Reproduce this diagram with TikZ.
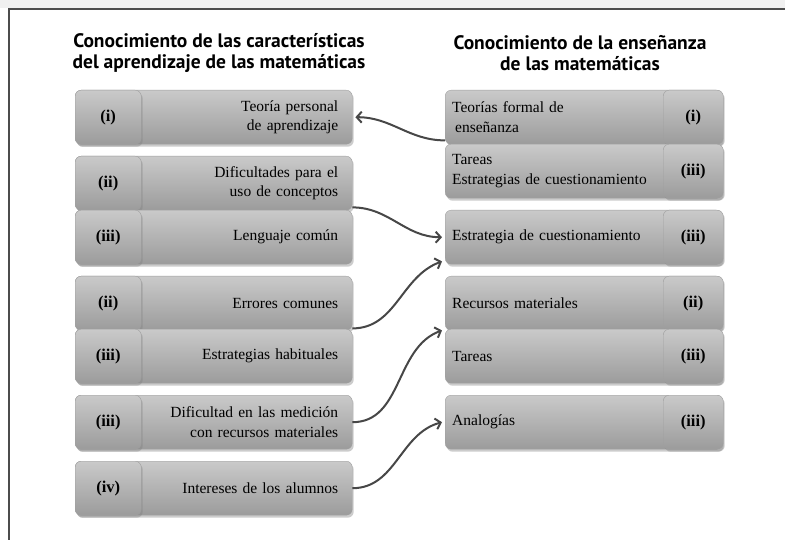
\documentclass[tikz,border=0pt]{standalone}
\usepackage{fontspec}
\setmainfont{Liberation Serif}
\newfontfamily\headfont{PT Sans}
\usetikzlibrary{arrows.meta,shadows}
\tikzset{
  bar/.style = {
    draw=gray!75, rounded corners=6pt, inner ysep=0pt,
    top color=gray!42, bottom color=gray!78,
    drop shadow={shadow xshift=1.5pt, shadow yshift=-2.5pt, opacity=0.4},
    minimum height=54pt, anchor=north west, font=\fontsize{15.5}{19.5}\selectfont
  },
  lbar/.style = {bar, text width=249pt, inner xsep=14pt, align=right},
  rbar/.style = {bar, text width=263pt, inner xsep=7pt, align=left},
  tab/.style = {bar, minimum width=60pt, inner xsep=0pt, font=\fontsize{16.5}{19}\selectfont\bfseries},
  head/.style = {font=\headfont\fontsize{19.5}{21}\selectfont\bfseries, align=center},
  link/.style = {draw=black!72, line width=2pt, -{Straight Barb[length=5pt,width=11pt]}}
}

\begin{document}
\begin{tikzpicture}[x=1pt,y=-1pt]
  \useasboundingbox (0,0) rectangle (785,540);
  % frame of the page
  \fill[black!6] (0,0) rectangle (785,8);
  \draw[black!70,line width=1.2pt] (9,540) -- (9,9) -- (785,9);
  % headings
  \node[head] (hl) at (219,53) {Conocimiento de las características\\del aprendizaje de las matemáticas};
  \node[head] (hr) at (580,53) {Conocimiento de la enseñanza\\de las matemáticas};
  % left column
  \foreach \n/\y/\t/\s in {
      l1/90/(i)/{Teoría personal\\de aprendizaje},
      l2/156/(ii)/{Dificultades para el\\uso de conceptos},
      l3/210/(iii)/{Lenguaje común},
      l4/276/(ii)/{Errores comunes},
      l5/329/(iii)/{Estrategias habituales},
      l6/395/(iii)/{Dificultad en las medición\\con recursos materiales},
      l7/461/(iv)/{Intereses de los alumnos}} {
    \node[lbar] (\n) at (75,\y) {\s};
    \node[tab, minimum width=66pt] (\n-t) at (75,\y) {\t};
  }
  % right column
  \foreach \n/\y/\t/\s in {
      r1/90/(i)/{Teorías formal de\\\hspace{3pt}enseñanza},
      r2/144/(iii)/{Tareas\\Estrategias de cuestionamiento},
      r3/210/(iii)/{Estrategia de cuestionamiento},
      r4/276/(ii)/{Recursos materiales},
      r5/329/(iii)/{Tareas},
      r6/395/(iii)/{Analogías}} {
    \node[rbar] (\n) at (445,\y) {\s};
    \node[tab] (\n-t) at (663,\y) {\t};
  }
  % connections
  \draw[link] ([yshift=4pt]r1.south west) to[out=180,in=0] ([xshift=3pt]l1.east);
  \draw[link] ([yshift=3pt]l2.south east) to[out=0,in=180] ([xshift=-3pt]r3.west);
  \draw[link] ([yshift=2pt]l4.south east) to[out=0,in=200] ([xshift=-3pt,yshift=3pt]r3.south west);
  \draw[link] (l6.east) to[out=0,in=200] ([xshift=-3pt]r4.south west);
  \draw[link] (l7.east) to[out=0,in=195] ([xshift=-3pt]r6.west);
\end{tikzpicture}
\end{document}
